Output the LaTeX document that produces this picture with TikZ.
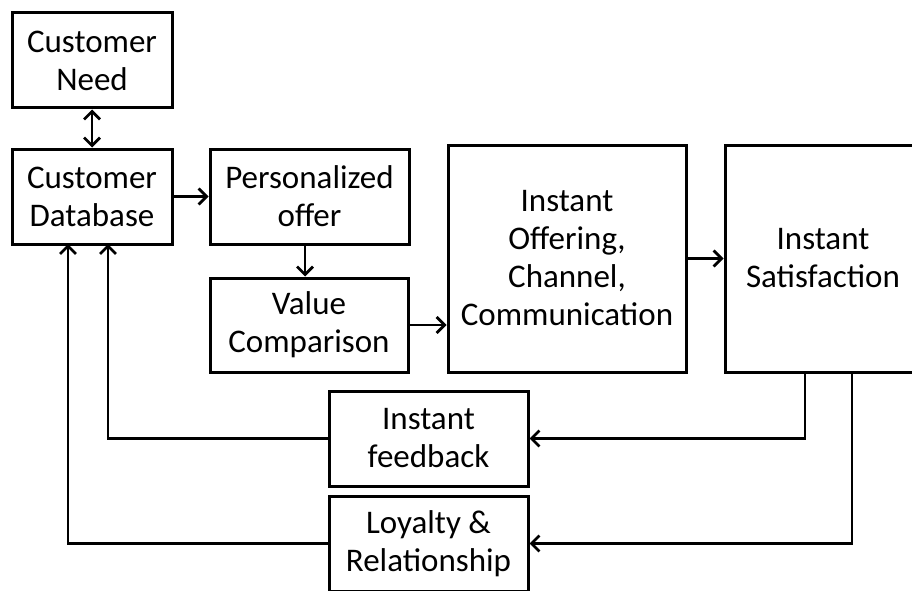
\documentclass[tikz,border=0pt]{standalone}
\usepackage{fontspec}
\setmainfont{Carlito}
\usepackage{tikz}
\usetikzlibrary{arrows.meta}
\tikzset{box/.style={draw=black, line width=3pt, align=center, inner sep=0pt,
                     font=\fontsize{33}{38}\selectfont},
         link/.style={line width=2.8pt, -{Straight Barb[length=8pt,width=16pt]}}}

\begin{document}
\begin{tikzpicture}[x=1pt,y=-1pt]
\useasboundingbox (0,0) rectangle (912,591);

\node[box,minimum width=160,minimum height=95] (need) at (92,60.5) {Customer\\Need};
\node[box,minimum width=160,minimum height=95] (db) at (92,196.5) {Customer\\Database};
\node[box,minimum width=199,minimum height=95] (offer) at (309.5,196.5) {Personalized\\offer};
\node[box,minimum width=198,minimum height=94] (value) at (309,325) {Value\\Comparison};
\node[box,minimum width=238,minimum height=227] (chan) at (567,258.5) {Instant\\Offering,\\Channel,\\Communication};
\node[box,minimum width=196,minimum height=227] (sat) at (823,258.5) {Instant\\Satisfaction};
\node[box,minimum width=199,minimum height=95] (fb) at (428.5,438.5) {Instant\\feedback};
\node[box,minimum width=199,minimum height=95] (loy) at (428.5,543.5) {Loyalty \&\\Relationship};

\coordinate (s1) at (805,372);
\coordinate (s2) at (852,372);
\coordinate (d1) at (68,244);
\coordinate (d2) at (108,244);
\coordinate (o1) at (305,244);

\draw[link,{Straight Barb[length=8pt,width=16pt]}-{Straight Barb[length=8pt,width=16pt]}] (need) -- (db);
\draw[link] (db) -- (offer);
\draw[link] (o1) -- (o1 |- value.north);
\draw[link] (value) -- (value -| chan.west);
\draw[link] (chan) -- (sat);

\draw[link] (s1) |- (fb);
\draw[link] (s2) |- (loy);
\draw[link] (fb) -| (d2);
\draw[link] (loy) -| (d1);
\end{tikzpicture}
\end{document}
